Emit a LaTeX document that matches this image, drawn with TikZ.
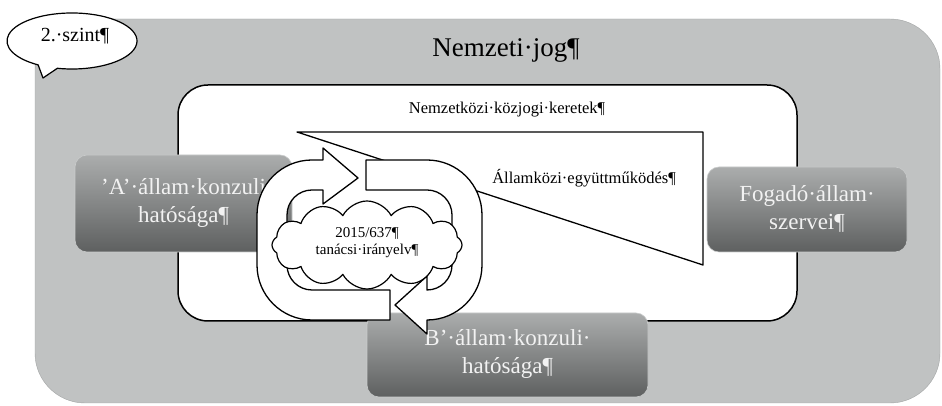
\documentclass[tikz,border=0pt]{standalone}
\usepackage{fontspec}
\setmainfont{Liberation Serif}
\usetikzlibrary{shapes.symbols,shapes.callouts}

\definecolor{outergray}{HTML}{C0C2C2}
\definecolor{boxtop}{HTML}{ABADAD}
\definecolor{boxbottom}{HTML}{5E6060}
\definecolor{boxedge}{HTML}{C9CBCB}
\definecolor{boxtext}{HTML}{F2F2F2}

\tikzset{
  outline/.style={draw=black, line width=1.3pt, fill=white, line join=round},
  graybox/.style={rounded corners=12pt, top color=boxtop, bottom color=boxbottom,
                  draw=boxedge, line width=0.6pt},
  boxlabel/.style={align=center, text=boxtext, font=\fontsize{23}{28}\selectfont, inner sep=0pt},
  plainlabel/.style={align=center, inner sep=0pt},
}

\begin{document}
\begin{tikzpicture}[x=1pt, y=1pt]
\useasboundingbox (0,0) rectangle (942,406);

% national-law background panel
\path[fill=outergray, draw=outergray!85!black, line width=0.4pt, rounded corners=50pt]
  (35,3) rectangle (940,387);

% level bubble
\draw[outline, line width=1.2pt]
  (72,365) ++(257:65 and 28)
  arc[start angle=257, end angle=598.6, x radius=65, y radius=28]
  -- (43,328) -- cycle;
\node[plainlabel, font=\fontsize{20}{24}\selectfont] (level) at (75,370) {2.·szint¶};

\node[plainlabel, font=\fontsize{27}{32}\selectfont] (national) at (506,356) {Nemzeti·jog¶};

% international framework frame
\draw[outline, line width=1.5pt, rounded corners=30pt] (178,85) rectangle (797,321);
\node[plainlabel, font=\fontsize{16.5}{20}\selectfont] (framework) at (507,296)
  {Nemzetközi·közjogi·keretek¶};

% cooperation wedge
\draw[outline] (297,274) -- (703,274) -- (703,141) -- cycle;
\node[plainlabel, font=\fontsize{16.5}{20}\selectfont] (coop) at (584,228)
  {Államközi·együttműködés¶};

% actor boxes
\path[graybox] (75,154) rectangle (292,251);
\node[boxlabel] (stateA) at (183.5,203) {’A’·állam·konzuli\\hatósága¶};

\path[graybox] (707,154) rectangle (907,239);
\node[boxlabel] (host) at (807,197) {Fogadó·állam·\\szervei¶};

\path[graybox] (367,9) rectangle (648,93);
\node[boxlabel] (stateB) at (507.5,52) {B’·állam·konzuli·\\hatósága¶};

% cycle arrow running over the top towards the right
\draw[outline]
  (390,86) -- (312,86) arc[start angle=270, end angle=180, radius=55]
  -- (257,191) arc[start angle=180, end angle=90, radius=55]
  -- (323,246) -- (323,258) -- (358,228) -- (323,202) -- (323,216)
  -- (312,216) arc[start angle=90, end angle=180, radius=25]
  -- (287,141) arc[start angle=180, end angle=270, radius=25]
  -- (390,116) -- cycle;

% cycle arrow running down the right side and back to the left
\draw[outline]
  (366,246) -- (427,246) arc[start angle=90, end angle=0, radius=55]
  -- (482,141) arc[start angle=0, end angle=-90, radius=55]
  -- (427,72) -- (395,101) -- (427,130) -- (427,116)
  arc[start angle=-90, end angle=0, radius=25]
  -- (452,191) arc[start angle=0, end angle=90, radius=25]
  -- (366,216) -- cycle;

% directive cloud
\node[cloud, cloud puffs=12, cloud puff arc=125, cloud ignores aspect,
      minimum width=190pt, minimum height=88pt, inner sep=0pt,
      outline, line width=1.2pt] (cloud) at (367,161) {};
\node[plainlabel, font=\fontsize{15}{17}\selectfont] (directive) at (367,163)
  {2015/637¶\\tanácsi·irányelv¶};

\end{tikzpicture}
\end{document}
